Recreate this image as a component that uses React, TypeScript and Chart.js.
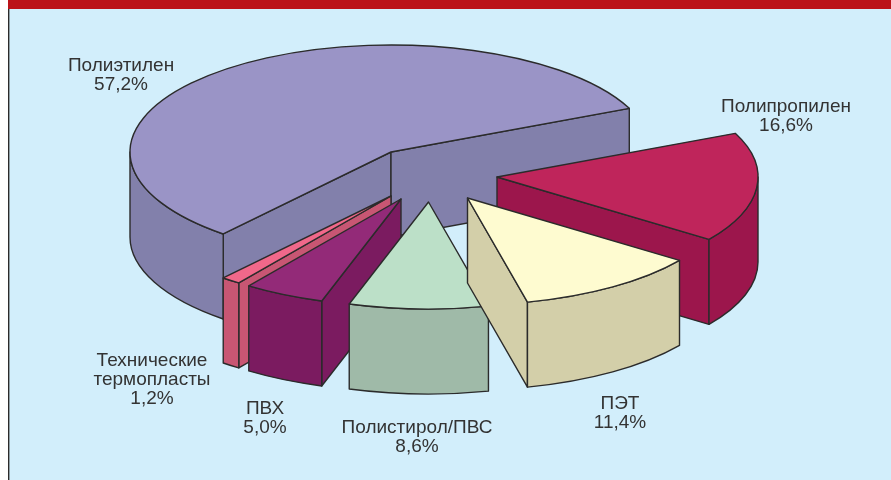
import React, { useEffect, useRef } from "react";
import { Chart, registerables } from "chart.js";

Chart.register(...registerables);

const categories = ["Полиэтилен", "Полипропилен", "ПЭТ", "Полистирол/ПВС", "ПВХ", "Технические\nтермопласты"];
const shares = [57.2, 16.6, 11.4, 8.6, 5.0, 1.2];
const shareLabels = ["57,2%", "16,6%", "11,4%", "8,6%", "5,0%", "1,2%"];

// Styles and layout of the drawn pie
const topColors = ["#9a94c6", "#bf255b", "#fefbd0", "#bce0c8", "#932a78", "#f1688a"];
const sideColors = ["#8280ab", "#9c164c", "#d3cfa9", "#9fbaa8", "#7b1b60", "#c85673"];
const explodeX = [391, 497, 467.5, 428.5, 401, 391];
const explodeY = [152, 177, 198, 202, 199, 196];
const labelX = [121, 786, 620, 417, 265, 152];
const labelY = [66, 107, 404, 428, 409, 361];
const paintOrder = [0, 1, 5, 4, 3, 2];
const RADIUS = 261;
const FLATTEN = 0.41;
const DEPTH = 85;
const LINE = "#2b2b2b";
const TWO_PI = Math.PI * 2;

function outline(ctx: CanvasRenderingContext2D) {
  ctx.strokeStyle = LINE;
  ctx.lineWidth = 1.4;
  ctx.lineJoin = "round";
  ctx.stroke();
}

function radialWall(ctx: CanvasRenderingContext2D, ox: number, oy: number, a: number, fill: string) {
  const ex = ox + RADIUS * Math.cos(a);
  const ey = oy + RADIUS * FLATTEN * Math.sin(a);
  ctx.beginPath();
  ctx.moveTo(ox, oy);
  ctx.lineTo(ex, ey);
  ctx.lineTo(ex, ey + DEPTH);
  ctx.lineTo(ox, oy + DEPTH);
  ctx.closePath();
  ctx.fillStyle = fill;
  ctx.fill();
  outline(ctx);
}

function outerWall(ctx: CanvasRenderingContext2D, ox: number, oy: number, t0: number, t1: number, fill: string) {
  ctx.beginPath();
  ctx.ellipse(ox, oy, RADIUS, RADIUS * FLATTEN, 0, t0, t1);
  ctx.ellipse(ox, oy + DEPTH, RADIUS, RADIUS * FLATTEN, 0, t1, t0, true);
  ctx.closePath();
  ctx.fillStyle = fill;
  ctx.fill();
  outline(ctx);
}

const pie3d = {
  id: "pie3d",
  beforeDraw(chart: any) {
    const { ctx, width, height } = chart;
    ctx.save();
    ctx.fillStyle = "#ffffff";
    ctx.fillRect(0, 0, width, height);
    ctx.fillStyle = "#d2eefb";
    ctx.fillRect(8, 9, width - 8, height - 9);
    ctx.fillStyle = "#bb1319";
    ctx.fillRect(8, 0, width - 8, 9);
    ctx.fillStyle = "#2b2b2b";
    ctx.fillRect(8, 9, 1.4, height - 9);
    ctx.restore();
  },
  beforeDatasetDraw(chart: any) {
    const { ctx } = chart;
    const arcs = chart.getDatasetMeta(0).data;
    for (const i of paintOrder) {
      const arc = arcs[i];
      const ox = explodeX[i];
      const oy = explodeY[i];
      let a0 = arc.startAngle % TWO_PI;
      if (a0 < 0) a0 += TWO_PI;
      const a1 = a0 + (arc.endAngle - arc.startAngle);
      ctx.save();
      if (Math.cos(a0) < 0) radialWall(ctx, ox, oy, a0, sideColors[i]);
      if (Math.cos(a1) > 0) radialWall(ctx, ox, oy, a1, sideColors[i]);
      for (const [lo, hi] of [[0, Math.PI], [TWO_PI, TWO_PI + Math.PI]]) {
        const t0 = Math.max(a0, lo);
        const t1 = Math.min(a1, hi);
        if (t1 > t0) outerWall(ctx, ox, oy, t0, t1, sideColors[i]);
      }
      ctx.restore();

      ctx.save();
      ctx.translate(ox, oy);
      ctx.scale(1, FLATTEN);
      ctx.translate(-arc.x, -arc.y);
      arc.draw(ctx);
      ctx.restore();

      ctx.save();
      ctx.beginPath();
      ctx.moveTo(ox, oy);
      ctx.ellipse(ox, oy, RADIUS, RADIUS * FLATTEN, 0, a0, a1);
      ctx.closePath();
      outline(ctx);
      ctx.restore();
    }
    return false;
  },
  afterDraw(chart: any) {
    const { ctx } = chart;
    ctx.save();
    ctx.fillStyle = "#333333";
    ctx.font = '19px "Liberation Sans", Arial, sans-serif';
    ctx.textAlign = "center";
    ctx.textBaseline = "middle";
    categories.forEach((name, i) => {
      const lines = [...name.split("\n"), shareLabels[i]];
      lines.forEach((line, k) => ctx.fillText(line, labelX[i], labelY[i] + k * 19));
    });
    ctx.restore();
  },
};

export default function App() {
  const ref = useRef<HTMLCanvasElement>(null);
  useEffect(() => {
    const chart = new Chart(ref.current!, {
      type: "pie",
      data: {
        labels: categories,
        datasets: [{ data: shares, backgroundColor: topColors, borderWidth: 0 }],
      },
      options: {
        responsive: false,
        animation: false,
        rotation: 220,
        radius: RADIUS,
        layout: { padding: 0 },
        plugins: { legend: { display: false }, tooltip: { enabled: false } },
      } as any,
      plugins: [pie3d],
    });
    return () => chart.destroy();
  }, []);
  return (
    <div style={{ position: "fixed", left: 0, top: 0, width: 891, height: 480 }}>
      <canvas ref={ref} width={891} height={480} style={{ display: "block" }} />
    </div>
  );
}
